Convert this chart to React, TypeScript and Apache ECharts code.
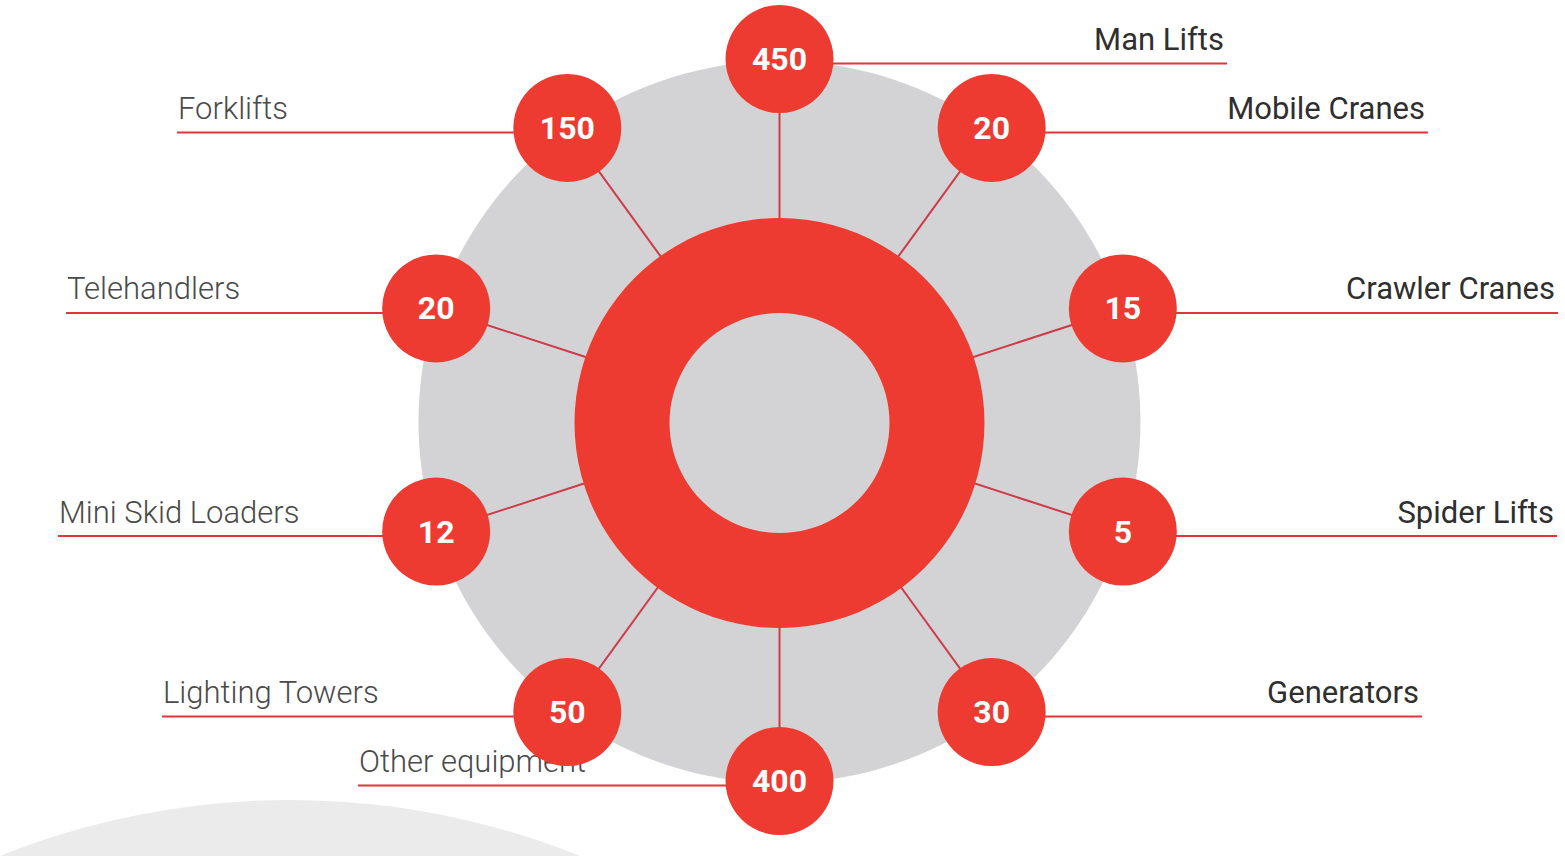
import React, { useEffect, useRef } from "react";
import * as echarts from "echarts";

// ---- data ----
const categories = [
  "Man Lifts",
  "Mobile Cranes",
  "Crawler Cranes",
  "Spider Lifts",
  "Generators",
  "Other equipment",
  "Lighting Towers",
  "Mini Skid Loaders",
  "Telehandlers",
  "Forklifts",
];
const counts = [450, 20, 15, 5, 30, 400, 50, 12, 20, 150];

// ---- layout (pixel x where each label's underline ends) ----
const labelLineEndX = [1227, 1428, 1558, 1557, 1422, 358, 162, 58, 66, 177];

const RING_CENTER: [number, number] = [779.5, 423];
const POLAR_CENTER: [number, number] = [779.5, 420];
const RING_R = 361;
const RED = "#EE3B32";
const LINE_RED = "#E2353B";
const SPOKE = "#CF3A48";
const GREY = "#D3D3D5";
const LIGHT_GREY = "#EBEBEC";

export default function App() {
  const ref = useRef<HTMLDivElement>(null);

  useEffect(() => {
    if (!ref.current) return;
    const chart = echarts.init(ref.current, undefined, { renderer: "svg" });

    const option: any = {
      animation: false,
      backgroundColor: "#ffffff",
      polar: { center: POLAR_CENTER, radius: RING_R },
      angleAxis: {
        type: "category",
        data: categories,
        startAngle: 108,
        clockwise: true,
        boundaryGap: true,
        axisLine: { show: false },
        axisTick: { show: false },
        axisLabel: { show: false },
        splitLine: { show: false },
      },
      radiusAxis: {
        type: "value",
        min: 0,
        max: 1,
        axisLine: { show: false },
        axisTick: { show: false },
        axisLabel: { show: false },
        splitLine: { show: false },
      },
      graphic: [
        {
          type: "circle",
          z: -10,
          silent: true,
          shape: { cx: 290, cy: 1579, r: 779 },
          style: { fill: LIGHT_GREY },
        },
      ],
      series: [
        {
          type: "pie",
          z: 1,
          silent: true,
          center: [779.5, 422],
          radius: [0, RING_R],
          label: { show: false },
          labelLine: { show: false },
          itemStyle: { color: GREY },
          emphasis: { disabled: true },
          data: [{ value: 1, name: "background" }],
        },
        {
          type: "custom",
          z: 2,
          silent: true,
          coordinateSystem: "polar",
          data: counts.map((_, i) => [1, i]),
          renderItem: (params: any, api: any) => {
            const i = params.dataIndex;
            const a = api.coord([0.5, i]);
            const b = api.coord([1, i]);
            return {
              type: "line",
              shape: { x1: a[0], y1: a[1], x2: b[0], y2: b[1] },
              style: { stroke: SPOKE, lineWidth: 2 },
            };
          },
        },
        {
          type: "pie",
          z: 3,
          silent: true,
          center: RING_CENTER,
          radius: [110, 205],
          label: { show: false },
          labelLine: { show: false },
          itemStyle: { color: RED },
          emphasis: { disabled: true },
          data: [{ value: 1, name: "ring" }],
        },
        {
          type: "custom",
          z: 4,
          silent: true,
          coordinateSystem: "polar",
          data: counts.map((_, i) => [1, i]),
          renderItem: (params: any, api: any) => {
            const i = params.dataIndex;
            const p = api.coord([1, i]);
            const endX = labelLineEndX[i];
            const y = p[1] + 4.5;
            const right = endX > p[0];
            return {
              type: "group",
              children: [
                {
                  type: "line",
                  shape: { x1: p[0], y1: y, x2: endX, y2: y },
                  style: { stroke: LINE_RED, lineWidth: 2 },
                },
                {
                  type: "text",
                  x: right ? endX - 3 : endX + 1,
                  y: y - 24,
                  style: {
                    text: categories[i],
                    fill: right ? "#2f2f2f" : "#4a4a4a",
                    fontSize: 31,
                    fontFamily: "Roboto",
                    fontWeight: right ? 400 : 300,
                    align: right ? "right" : "left",
                    verticalAlign: "middle",
                  },
                },
              ],
            };
          },
        },
        {
          type: "scatter",
          z: 5,
          coordinateSystem: "polar",
          symbol: "circle",
          symbolSize: 108,
          itemStyle: { color: RED, opacity: 1 },
          label: {
            show: true,
            position: "inside",
            color: "#ffffff",
            fontSize: 32,
            fontWeight: "bold",
            fontFamily: "Roboto",
            formatter: (p: any) => String(p.value[2]),
          },
          emphasis: { disabled: true },
          data: counts.map((v, i) => [1, i, v]),
        },
      ],
    };

    chart.setOption(option);
    return () => chart.dispose();
  }, []);

  return (
    <div
      ref={ref}
      style={{ position: "fixed", left: 0, top: 0, width: 1565, height: 856, background: "#fff" }}
    />
  );
}
